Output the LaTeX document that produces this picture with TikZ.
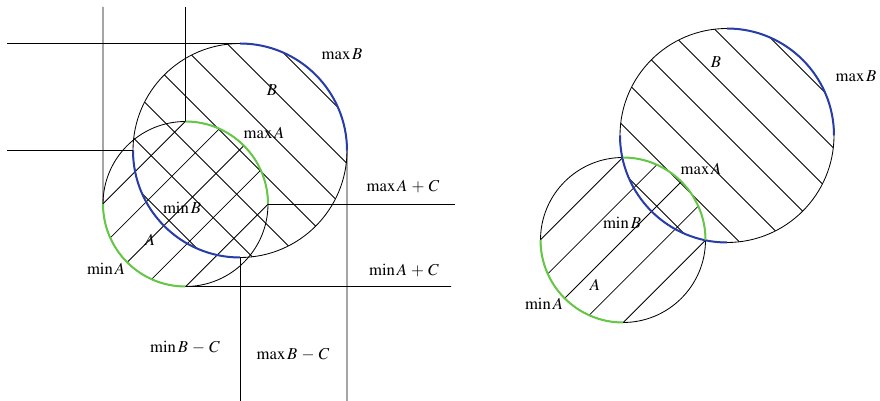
\documentclass[tikz,border=0pt]{standalone}
\usepackage{mathptmx}
\usetikzlibrary{calc}
\definecolor{maxblue}{RGB}{40,60,170}
\definecolor{mingreen}{RGB}{100,200,70}

\begin{document}
\begin{tikzpicture}[x=0.6pt, y=0.6pt,
  ring/.style={circle, draw, line width=0.5pt, inner sep=0pt, outer sep=0pt},
  setA/.style={ring, minimum size=99pt},
  setB/.style={ring, minimum size=128.4pt},
  hatch/.style={line width=0.5pt},
  bound/.style={line width=0.5pt},
  maxarc/.style={line width=1.2pt, draw=maxblue},
  minarc/.style={line width=1.2pt, draw=mingreen},
  lbl/.style={inner sep=1pt}
]
\useasboundingbox (0,0) rectangle (880,401);

% hatching of both sets, left and right
\foreach \s/\ax/\ay/\bx/\by in {l/185.5/197/240/250.5, r/623/161/727/265.5} {
  \begin{scope}
    \clip (\ax,\ay) circle (82.5);
    \foreach \k in {-3,...,3}
      \draw[hatch] ($(\ax,\ay)+(20.7*\k-120,-20.7*\k-120)$) -- ++(240,240);
  \end{scope}
  \begin{scope}
    \clip (\bx,\by) circle (107);
    \foreach \k in {-4,...,4}
      \draw[hatch] ($(\bx,\by)+(23.5*\k-150,23.5*\k+150)$) -- ++(300,-300);
  \end{scope}
}

\node[setA] (A) at (185.5,197) {};
\node[setB] (B) at (240,250.5) {};
\node[setA] (A2) at (623,161) {};
\node[setB] (B2) at (727,265.5) {};

% extreme arcs
\draw[maxarc] (B.north) arc[start angle=90, end angle=0, radius=107];
\draw[maxarc] (B.west) arc[start angle=180, end angle=270, radius=107];
\draw[minarc] (A.north) arc[start angle=90, end angle=0, radius=82.5];
\draw[minarc] (A.west) arc[start angle=180, end angle=270, radius=82.5];
\draw[maxarc] (B2.north) arc[start angle=90, end angle=0, radius=107];
\draw[maxarc] (B2.west) arc[start angle=180, end angle=270, radius=107];
\draw[minarc] (A2.north) arc[start angle=90, end angle=0, radius=82.5];
\draw[minarc] (A2.west) arc[start angle=180, end angle=270, radius=82.5];

% bounding lines
\coordinate (e1) at (7,357.5);
\coordinate (e2) at (103,394);
\coordinate (e3) at (185.5,394);
\coordinate (e4) at (7,250.5);
\coordinate (e5) at (455,197);
\coordinate (e6) at (451,114.5);
\coordinate (e7) at (240,0);
\coordinate (e8) at (347,0);
\draw[bound] (e1) -- (B.north);
\draw[bound] (e2) -- (A.west);
\draw[bound] (e3) -- (A.north);
\draw[bound] (e4) -- (B.west);
\draw[bound] (A.east) -- (e5);
\draw[bound] (A.south) -- (e6);
\draw[bound] (B.south) -- (e7);
\draw[bound] (B.east) -- (e8);

\node[lbl] (lmaxB) at (342,347) {$\max B$};
\node[lbl] (lB) at (272,311) {$B$};
\node[lbl] (lmaxA) at (264,268) {$\max A$};
\node[lbl] (lmaxAC) at (403,214) {$\max A \mathbin{\,+\,} C$};
\node[lbl] (lminB) at (182,193) {$\min B$};
\node[lbl] (lA) at (150,161) {$A$};
\node[lbl] (lminA) at (106,132) {$\min A$};
\node[lbl] (lminAC) at (404,131) {$\min A \mathbin{\,+\,} C$};
\node[lbl] (lminBC) at (185,53) {$\min B \mathbin{\,-\,} C$};
\node[lbl] (lmaxBC) at (293,46) {$\max B \mathbin{\,-\,} C$};

\node[lbl] (rB) at (716,339) {$B$};
\node[lbl] (rmaxB) at (856,325) {$\max B$};
\node[lbl] (rmaxA) at (701,232) {$\max A$};
\node[lbl] (rminB) at (622,178) {$\min B$};
\node[lbl] (rA) at (595,116) {$A$};
\node[lbl] (rminA) at (544,97) {$\min A$};
\end{tikzpicture}
\end{document}
